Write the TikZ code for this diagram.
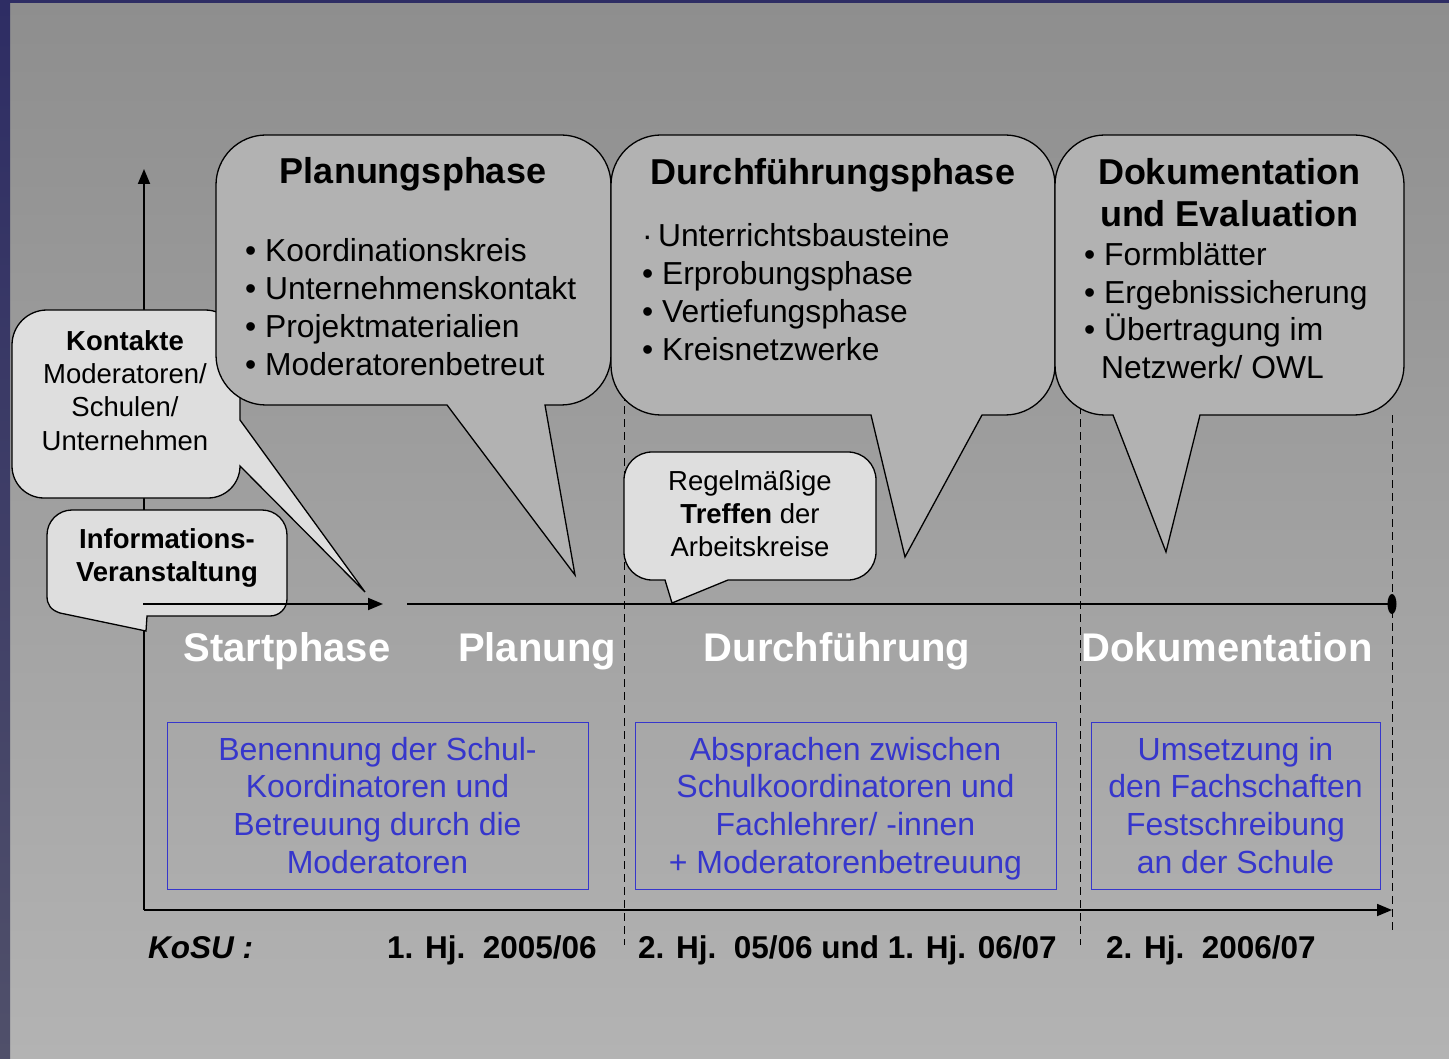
\documentclass[tikz,border=0pt]{standalone}
\usepackage{fontspec}
\setmainfont{Liberation Sans}
\usepackage{tikz}
\usetikzlibrary{positioning, arrows.meta}

\definecolor{bgtop}{HTML}{8E8E8E}
\definecolor{bgbot}{HTML}{B3B3B3}
\definecolor{frametop}{HTML}{2E2D64}
\definecolor{framebot}{HTML}{50506A}
\definecolor{bubbledark}{HTML}{B2B2B2}
\definecolor{bubblelight}{HTML}{DEDEDE}
\definecolor{boxblue}{HTML}{3636CC}

\begin{document}
\begin{tikzpicture}[
    x=1pt, y=-1pt,
    bubble/.style={draw=black, line width=1.3pt, fill=bubbledark},
    lightbubble/.style={draw=black, line width=1.3pt, fill=bubblelight},
    title/.style={font=\fontsize{36}{43}\selectfont\bfseries, anchor=base, inner sep=0pt},
    item/.style={font=\fontsize{31.8}{38}\selectfont, anchor=base west, inner sep=0pt},
    note/.style={font=\fontsize{27.5}{33}\selectfont, anchor=base, inner sep=0pt},
    notebold/.style={note, font=\fontsize{27.5}{33}\selectfont\bfseries},
    phase/.style={font=\fontsize{40}{47}\selectfont\bfseries, text=white, anchor=base, inner sep=0pt},
    bluebox/.style={draw=boxblue, line width=1.4pt, inner sep=0pt, anchor=north west},
    bluetext/.style={font=\fontsize{32}{38}\selectfont, text=boxblue, anchor=base, inner sep=0pt},
    term/.style={font=\fontsize{31.5}{36}\selectfont\bfseries, anchor=base west, inner sep=0pt},
    axis/.style={line width=1.8pt, -{Triangle[length=15pt, width=12pt]}},
    divider/.style={line width=1pt, dash pattern=on 8pt off 5pt}
]

% Background
\useasboundingbox (0,0) rectangle (1449,1059);
\shade[top color=bgtop, bottom color=bgbot] (0,0) rectangle (1449,1059);
\shade[top color=frametop, bottom color=framebot] (0,0) rectangle (10,1059);
\fill[frametop] (0,0) rectangle (1449,3);

% Axes and timeline points
\coordinate (origin) at (144,910);
\coordinate (ytop) at (144,169);
\coordinate (xend) at (1392,910);
\coordinate (tlstart) at (143,604);
\coordinate (tlarrow) at (383,604);
\coordinate (tlgap) at (407,604);
\coordinate (tlend) at (1392,604);

% Dashed phase borders
\foreach \name/\x/\ya/\yb in {durch/624/380/945, doku/1080/380/945, ende/1392/415/934} {
    \coordinate (\name-a) at (\x,\ya);
    \coordinate (\name-b) at (\x,\yb);
    \draw[divider] (\name-a) -- (\name-b);
}

\draw[axis] (origin) -- (ytop);

% Kontakte
\draw[lightbubble] (47,310) -- (205,310) arc[start angle=270, end angle=360, radius=35]
    -- (240,420) -- (365,592) -- (240,466) arc[start angle=0, end angle=90, radius=32]
    -- (44,498) arc[start angle=90, end angle=180, radius=32]
    -- (12,345) arc[start angle=180, end angle=270, radius=35] -- cycle;

% Planungsphase
\draw[bubble] (266,135) -- (561,135) arc[start angle=270, end angle=360, radius=50]
    -- (611,355) arc[start angle=0, end angle=90, radius=50]
    -- (545,405) -- (575,575) -- (447,405)
    -- (266,405) arc[start angle=90, end angle=180, radius=50]
    -- (216,185) arc[start angle=180, end angle=270, radius=50] -- cycle;

% Durchfuehrungsphase
\draw[bubble] (661,135) -- (1005,135) arc[start angle=270, end angle=360, radius=50]
    -- (1055,365) arc[start angle=0, end angle=90, radius=50]
    -- (982,415) -- (905,557) -- (871,415)
    -- (661,415) arc[start angle=90, end angle=180, radius=50]
    -- (611,185) arc[start angle=180, end angle=270, radius=50] -- cycle;

% Dokumentation
\draw[bubble] (1105,135) -- (1354,135) arc[start angle=270, end angle=360, radius=50]
    -- (1404,365) arc[start angle=0, end angle=90, radius=50]
    -- (1200,415) -- (1166,552) -- (1113,415)
    -- (1105,415) arc[start angle=90, end angle=180, radius=50]
    -- (1055,185) arc[start angle=180, end angle=270, radius=50] -- cycle;

% Informationsveranstaltung
\draw[lightbubble] (72,510) -- (262,510) arc[start angle=270, end angle=360, radius=25]
    -- (287,599) arc[start angle=0, end angle=90, radius=17]
    -- (147,616) -- (146,631) -- (60,613) .. controls (51,610) and (47,605) .. (47,596)
    -- (47,535) arc[start angle=180, end angle=270, radius=25] -- cycle;

% Treffen der Arbeitskreise
\draw[lightbubble] (652,452) -- (848,452) arc[start angle=270, end angle=360, radius=28]
    -- (876,552) arc[start angle=0, end angle=90, radius=28]
    -- (728,580) -- (672,603) -- (665,580)
    -- (652,580) arc[start angle=90, end angle=180, radius=28]
    -- (624,480) arc[start angle=180, end angle=270, radius=28] -- cycle;

% Timeline
\draw[axis] (tlstart) -- (tlarrow);
\draw[line width=1.8pt] (tlgap) -- (tlend);
\fill (tlend) ellipse [x radius=4.5, y radius=10];
\draw[axis] (origin) -- (xend);

% Bubble texts
\node[title] (plantitle) at (413,184) {Planungsphase};
\foreach \txt [count=\i] in {Koordinationskreis, Unternehmenskontakt, Projektmaterialien, Moderatorenbetreut}
    \node[item] (plan\i) at (245,{262+37.7*(\i-1)}) {\textbullet\ \txt};

\node[title] (durchtitle) at (833,185) {Durchführungsphase};
\node[item] (durch1) at (642,247) {·\,Unterrichtsbausteine};
\foreach \txt [count=\i from 2] in {Erprobungsphase, Vertiefungsphase, Kreisnetzwerke}
    \node[item] (durch\i) at (642,{247+37.7*(\i-1)}) {\textbullet\ \txt};

\node[title] (doktitle) at (1229,185) {Dokumentation};
\node[title] (doktitleb) at (1229,227) {und Evaluation};
\foreach \txt [count=\i] in {Formblätter, Ergebnissicherung, Übertragung im}
    \node[item] (dok\i) at (1084,{266+37.5*(\i-1)}) {\textbullet\ \txt};
\node[item] (dok4) at (1101,378) {Netzwerk/ OWL};

\node[notebold] (kont1) at (125,351) {Kontakte};
\foreach \txt [count=\i from 2] in {Moderatoren/, Schulen/, Unternehmen}
    \node[note] (kont\i) at (125,{351+33*(\i-1)}) {\txt};

\node[notebold] (info1) at (167,548) {Informations-};
\node[notebold] (info2) at (167,581) {Veranstaltung};

\node[note] (regel1) at (750,490) {Regelmäßige};
\node[note] (regel2) at (750,523) {\textbf{Treffen} der};
\node[note] (regel3) at (750,556) {Arbeitskreise};

% Phase names
\foreach \txt/\x [count=\i] in {Startphase/287, Planung/537, Durchführung/837, Dokumentation/1227}
    \node[phase] (phase\i) at (\x,661) {\txt};

% Blue boxes
\node[bluebox, minimum width=421pt, minimum height=167pt] (box1) at (167,722) {};
\node[bluebox, minimum width=421pt, minimum height=167pt] (box2) at (635,722) {};
\node[bluebox, minimum width=289pt, minimum height=167pt] (box3) at (1091,722) {};

\foreach \txt [count=\i] in {Benennung der Schul-, Koordinatoren und, Betreuung durch die, Moderatoren}
    \node[bluetext] (boxa\i) at (377.5,{760+37.7*(\i-1)}) {\txt};
\foreach \txt [count=\i] in {Absprachen zwischen, Schulkoordinatoren und, Fachlehrer/ -innen, + Moderatorenbetreuung}
    \node[bluetext] (boxb\i) at (845.5,{760+37.7*(\i-1)}) {\txt};
\foreach \txt [count=\i] in {Umsetzung in, den Fachschaften, Festschreibung, an der Schule}
    \node[bluetext] (boxc\i) at (1235.5,{760+37.7*(\i-1)}) {\txt};

% Schedule
\node[term, font=\fontsize{31.5}{36}\selectfont\bfseries\itshape] (kosu) at (148,958) {KoSU :};
\node[term] (hja) at (387,958) {1. Hj.\ \ 2005/06};
\node[term] (hjb) at (638,958) {2. Hj.\ \ 05/06 und 1. Hj. 06/07};
\node[term] (hjc) at (1106,958) {2. Hj.\ \ 2006/07};

\end{tikzpicture}
\end{document}
